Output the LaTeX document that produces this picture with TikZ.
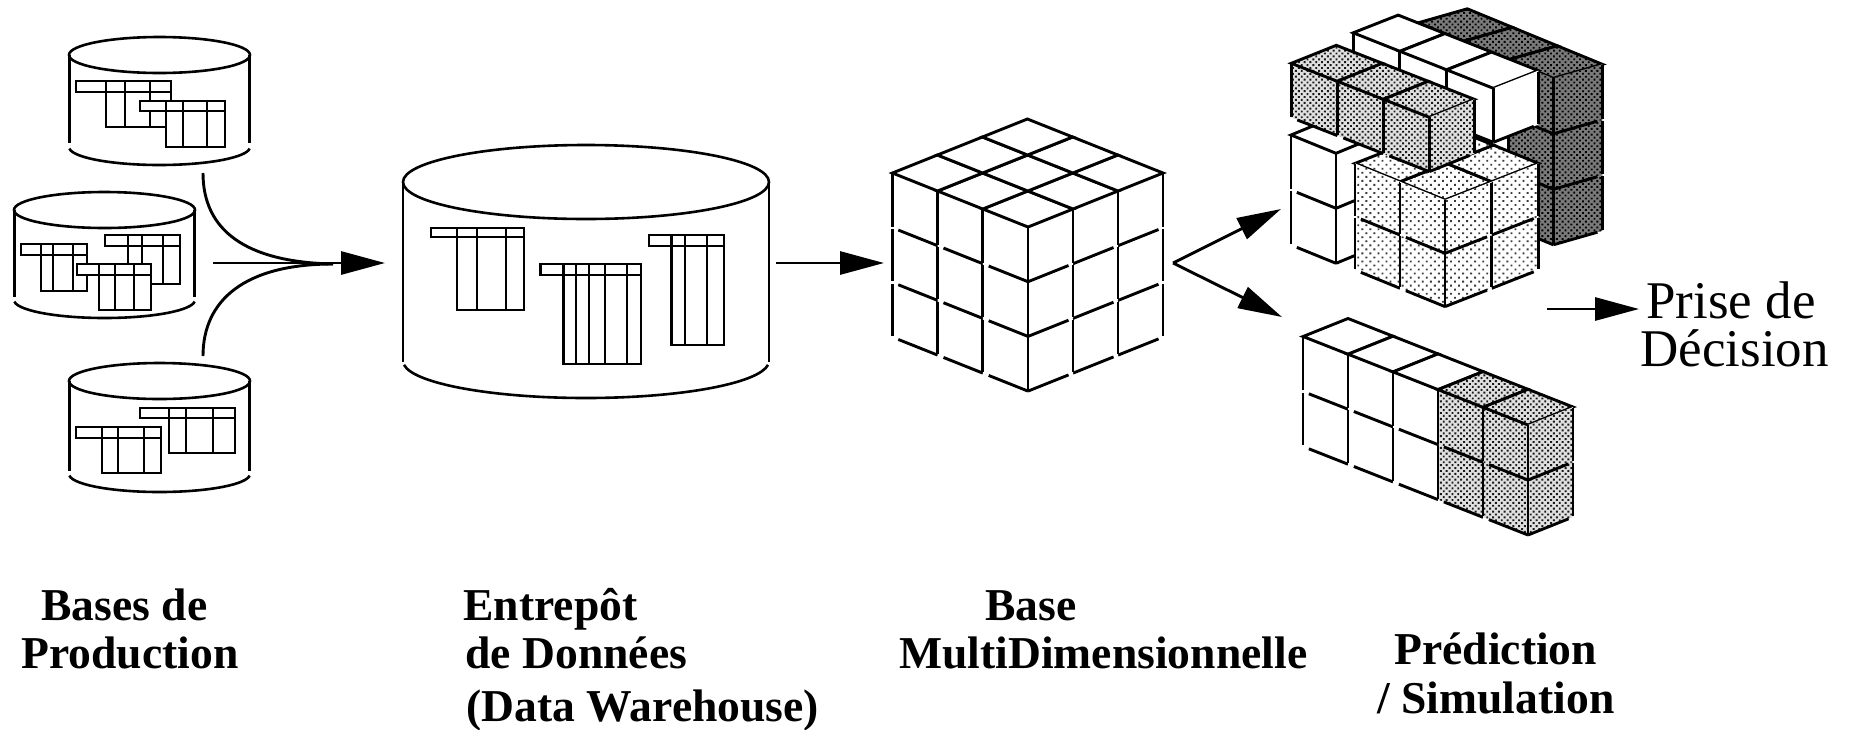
\documentclass[tikz,border=0pt]{standalone}
\usepackage{fontspec}
\setmainfont{Liberation Serif}
\usetikzlibrary{arrows.meta,patterns.meta}
\tikzset{
  wb/.style={fill=white},
  lightdots/.style={preaction={fill=white},pattern={Dots[distance=2.85pt,radius=.66pt,angle=45]},pattern color=black!78},
  middots/.style={preaction={fill=black!12},pattern={Dots[distance=2.05pt,radius=.68pt,angle=45]},pattern color=black!90},
  darkdots/.style={preaction={fill=black!52},pattern={Dots[distance=2.05pt,radius=.66pt,angle=45]},pattern color=black},
  ln/.style={line width=1.45pt,line cap=butt,line join=miter},
  thinln/.style={line width=1.3pt},
  conn/.style={line width=1.45pt},
  arr/.style={line width=1.45pt,-{Triangle[length=22pt,width=11.5pt]}},
  lab/.style={inner sep=0pt,anchor=base west,font=\fontsize{22.8}{24}\selectfont\bfseries},
  bigl/.style={inner sep=0pt,anchor=base west,font=\fontsize{26.5}{28}\selectfont},
}
% cylinder: cx, top centre y, rx, ry, side half width, side end y, arc centre y, arc angle
\newcommand\cyl[8]{%
  \draw[thinln] (#1,#2) ellipse [x radius=#3,y radius=#4];
  \draw[thinln] (#1-#5,#2) -- (#1-#5,#6) (#1+#5,#2) -- (#1+#5,#6);
  \draw[thinln] ({#1+#3*cos(180-#8)},{#7+#4*sin(#8)}) arc[start angle=180-#8,end angle=#8,x radius=#3,y radius=#4];
}
% table: header x0, header y0, header y1, body x0, right x, bottom y, dividers
\newcommand\tbl[7]{%
  \draw[ln,fill=white] (#1,#2) -- (#5,#2) -- (#5,#6) -- (#4,#6) -- (#4,#3) -- (#1,#3) -- cycle;
  \draw[ln] (#4,#3) -- (#5,#3);
  \foreach \dv in {#7} {\draw[ln] (\dv,#2) -- (\dv,#6);}
  \draw[ln] (#4,#2) -- (#4,#3);
}
% block faces, in a scope whose axes are: x along right edge, y along left edge, z downwards
\newcommand\ftop[4]{\path[ln,#4] (#1,#2,#3) -- (#1+1,#2,#3) -- (#1+1,#2+1,#3) -- (#1,#2+1,#3) -- cycle;
  \draw[ln] (#1,#2,#3) -- (#1+1,#2,#3) -- (#1+1,#2+1,#3) -- (#1,#2+1,#3) -- cycle;}
\newcommand\fleft[4]{\path[#4] (#1,#2,#3) -- (#1,#2+1,#3) -- (#1,#2+1,#3+1) -- (#1,#2,#3+1) -- cycle;
  \draw[ln] (#1,#2,#3) -- (#1,#2,#3+1);
  \draw[ln] (#1,#2+1,#3+.02) -- (#1,#2+1,#3+.98);
  \draw[ln] (#1,#2,#3+1) -- (#1,#2+.87,#3+1);}
\newcommand\fright[4]{\path[#4] (#1,#2,#3) -- (#1+1,#2,#3) -- (#1+1,#2,#3+1) -- (#1,#2,#3+1) -- cycle;
  \draw[ln] (#1,#2,#3) -- (#1,#2,#3+1);
  \draw[ln] (#1+1,#2,#3+.02) -- (#1+1,#2,#3+.98);
  \draw[ln] (#1,#2,#3+1) -- (#1+.9,#2,#3+1);}
\begin{document}
\begin{tikzpicture}[x=0.5pt,y=-0.5pt]
\useasboundingbox (0,0) rectangle (1850,729);

% production databases
\cyl{159.5}{55}{90.5}{18}{90}{143}{147}{5}
\tbl{76}{81}{92}{106}{171}{127}{125,150}
\tbl{140}{101}{111}{166}{225}{147}{183,207}
\cyl{104.5}{210}{90.5}{18}{90}{297}{300}{5}
\tbl{105}{235}{246}{128}{180}{284}{142,163}
\tbl{21}{244}{255}{41}{87}{291}{53,73}
\tbl{77}{264}{275}{99}{151}{310}{115,134}
\cyl{159.5}{381}{90.5}{18}{90}{471}{474}{5}
\tbl{140}{408}{418}{169}{235}{453}{186,213}
\tbl{76}{427}{438}{102}{161}{473}{118,144}

% connectors to the warehouse
\coordinate (src1) at (203,173);
\coordinate (src2) at (213,263);
\coordinate (src3) at (203,356);
\coordinate (merge) at (333,264);
\coordinate (whin) at (385,263);
\draw[conn] (src1) .. controls (203,230) and (245,262) .. (merge);
\draw[conn] (src3) .. controls (203,300) and (245,264) .. (merge);
\draw[arr] (src2) -- (whin);

% warehouse
\cyl{586}{182}{183}{37}{183}{362}{361}{6}
\tbl{431}{228}{237}{457}{524}{310}{477,506}
\tbl{540.5}{264}{275}{563.5}{641}{364}{576,589,605,627}
\tbl{649}{235}{246}{671.5}{724}{345}{685,707}

\coordinate (whout) at (776,263);
\coordinate (cubein) at (884,263);
\draw[arr] (whout) -- (cubein);

% multidimensional cube
\begin{scope}[shift={(1028,227)},x={(22.5pt,9pt)},y={(-22.6pt,9pt)},z={(0pt,-27.35pt)}]
  \foreach \k in {2,1,0} {
    \foreach \j in {2,1,0} {\fleft{0}{\j}{\k}{wb}}
    \foreach \i in {2,1,0} {\fright{\i}{0}{\k}{wb}}
  }
  \foreach \i in {0,1,2} {\foreach \j in {0,1,2} {\ftop{\i}{\j}{0}{wb}}}
\end{scope}

% arrows out of the cube
\coordinate (hub) at (1173,263);
\coordinate (predin) at (1281,209);
\coordinate (simin) at (1282,317);
\draw[arr,line join=miter] (hub) -- (predin);
\draw[arr] (hub) -- (simin);

% dark wall
\begin{scope}[shift={(1553.3,78.3)},x={(24.5pt,7pt)},y={(-22.5pt,9.25pt)},z={(0pt,-27.75pt)}]
  \foreach \j in {2,1,0} {\ftop{0}{\j}{0}{darkdots}}
  \foreach \k in {2,1,0} {\fleft{0}{0}{\k}{darkdots}\fright{0}{0}{\k}{darkdots}}
\end{scope}
% white upper row
\begin{scope}[shift={(1493.3,88.3)},x={(22.5pt,8.85pt)},y={(-23.35pt,9.25pt)},z={(0pt,-27pt)}]
  \foreach \j in {2,1,0} {\fleft{0}{\j}{0}{wb}\ftop{0}{\j}{0}{wb}}
  \fright{0}{0}{0}{wb}
\end{scope}
% white column, lower left
\begin{scope}[shift={(1336,153.3)},x={(23pt,9.5pt)},y={(-22.5pt,9.15pt)},z={(0pt,-27.5pt)}]
  \foreach \k in {1,0} {\fleft{0}{0}{\k}{wb}\fright{0}{0}{\k}{wb}}
  \ftop{0}{0}{0}{wb}
\end{scope}
% light dotted 2x2x2
\begin{scope}[shift={(1445,200)},x={(23.35pt,9.15pt)},y={(-22.5pt,9.15pt)},z={(0pt,-26.65pt)}]
  \foreach \i in {0,1} {\foreach \j in {0,1} {\ftop{\i}{\j}{0}{lightdots}}}
  \foreach \k in {1,0} {
    \foreach \j in {1,0} {\fleft{0}{\j}{\k}{lightdots}}
    \foreach \i in {1,0} {\fright{\i}{0}{\k}{lightdots}}
  }
\end{scope}
% medium dotted row
\begin{scope}[shift={(1429.3,117.3)},x={(22.5pt,9pt)},y={(-23pt,9pt)},z={(0pt,-27.15pt)}]
  \foreach \j in {2,1,0} {\fleft{0}{\j}{0}{middots}\ftop{0}{\j}{0}{middots}}
  \fright{0}{0}{0}{middots}
\end{scope}

% lower row
\begin{scope}[shift={(1528,425)},x={(22.5pt,9pt)},y={(-22.5pt,8.85pt)},z={(0pt,-27.5pt)}]
  \foreach \j/\s in {4/wb,3/wb,2/wb,1/middots,0/middots} {
    \foreach \k in {1,0} {\fleft{0}{\j}{\k}{\s}}
    \ftop{0}{\j}{0}{\s}
  }
  \foreach \k in {1,0} {\fright{0}{0}{\k}{middots}}
\end{scope}

\coordinate (predout) at (1547,309);
\node[bigl] (decA) at (1646,318) {Prise de};
\node[bigl] (decB) at (1640,366) {Décision};
\coordinate (decin) at (1639,309);
\draw[arr] (predout) -- (decin);

% labels
\node[lab] (l1a) at (41,620) {Bases de};
\node[lab] (l1b) at (21,668) {Production};
\node[lab] (l2a) at (463,620) {Entrepôt};
\node[lab] (l2b) at (465,668) {de Données};
\node[lab] (l2c) at (466,721) {(Data Warehouse)};
\node[lab] (l3a) at (985,620) {Base};
\node[lab] (l3b) at (899,668) {MultiDimensionnelle};
\node[lab] (l4a) at (1394,664) {Prédiction};
\node[lab] (l4b) at (1377,713) {/ Simulation};
\end{tikzpicture}
\end{document}
